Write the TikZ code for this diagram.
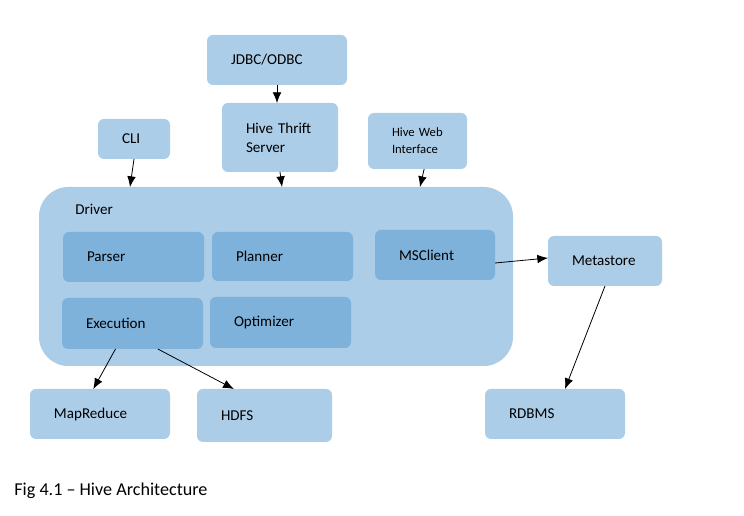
\documentclass[tikz,border=0pt]{standalone}
\usepackage{fontspec}
\setmainfont{Carlito}
\usetikzlibrary{arrows.meta}
\definecolor{outerblue}{RGB}{171,205,231}
\definecolor{innerblue}{RGB}{127,178,219}
\tikzset{
  box/.style 2 args={fill=outerblue, rounded corners=4.5pt, anchor=north west,
    inner xsep=18pt, inner ysep=0pt, outer sep=0pt,
    text width={(#1-48)*0.75pt}, minimum height={#2*0.75pt}, align=left},
  part/.style 2 args={box={#1}{#2}, fill=innerblue},
}
\begin{document}
\begin{tikzpicture}[x=0.75pt, y=-0.75pt, >={Latex[length=8pt,width=6.5pt]}, line width=0.6pt,
  font=\fontsize{11.3}{14.25}\selectfont]
\useasboundingbox (0,0) rectangle (744,516);

% Zugaenge oben
\node[box={140}{50}] (jdbc) at (207,35) {JDBC/ODBC};
\node[box={116}{69}] (thrift) at (222,103) {Hive Thrift\\Server};
\node[box={72}{40}] (cli) at (98,119) {CLI};
\node[box={99}{56}, font=\fontsize{9.5}{12.75}\selectfont] (web) at (368,113) {Hive Web\\Interface};

% Driver mit Bausteinen
\node[fill=outerblue, rounded corners=22pt, anchor=north west, minimum width=355.5pt,
  minimum height=134.25pt, inner sep=0pt, outer sep=0pt] (driver) at (39,187) {};
\node[anchor=base west, inner sep=0pt] (drivername) at (75,215) {Driver};
\node[part={141}{50}] (parser) at (63,232) {Parser};
\node[part={141}{49}] (planner) at (212,232) {Planner};
\node[part={120}{50}] (msclient) at (375,230) {MSClient};
\node[part={141}{51}] (execution) at (62,298) {Execution};
\node[part={141}{51}] (optimizer) at (210,297) {Optimizer};

% Ziele rechts und unten
\node[box={114}{50}] (metastore) at (548,236) {Metastore};
\node[box={140}{50}] (mapreduce) at (30,389) {MapReduce};
\node[box={135}{53}] (hdfs) at (197,389) {HDFS};
\node[box={140}{50}] (rdbms) at (485,389) {RDBMS};

\node[anchor=base west, inner sep=0pt, font=\fontsize{13.6}{16}\selectfont] (caption) at (14,496) {Fig 4.1 -- Hive Architecture};

% Eingaenge am Driver
\coordinate (clientry) at (130,187);
\coordinate (thriftentry) at (282,187);
\coordinate (webentry) at (420,187);

% Pfeile
\draw[->] (jdbc.south) -- (jdbc.south |- thrift.north);
\draw[->] (cli.south) -- (clientry);
\draw[->] (thrift.south) -- (thriftentry);
\draw[->] ([xshift=5pt]web.south) -- (webentry);
\draw[->] ([yshift=-6pt]msclient.east) -- ([yshift=2.25pt]metastore.west);
\draw[->] (metastore.south) -- ([xshift=7.5pt]rdbms.north);
\draw[->] ([xshift=-12.75pt]execution.south) -- ([xshift=-5pt]mapreduce.north);
\draw[->] ([xshift=19pt]execution.south) -- ([xshift=-23pt]hdfs.north);

\end{tikzpicture}
\end{document}
